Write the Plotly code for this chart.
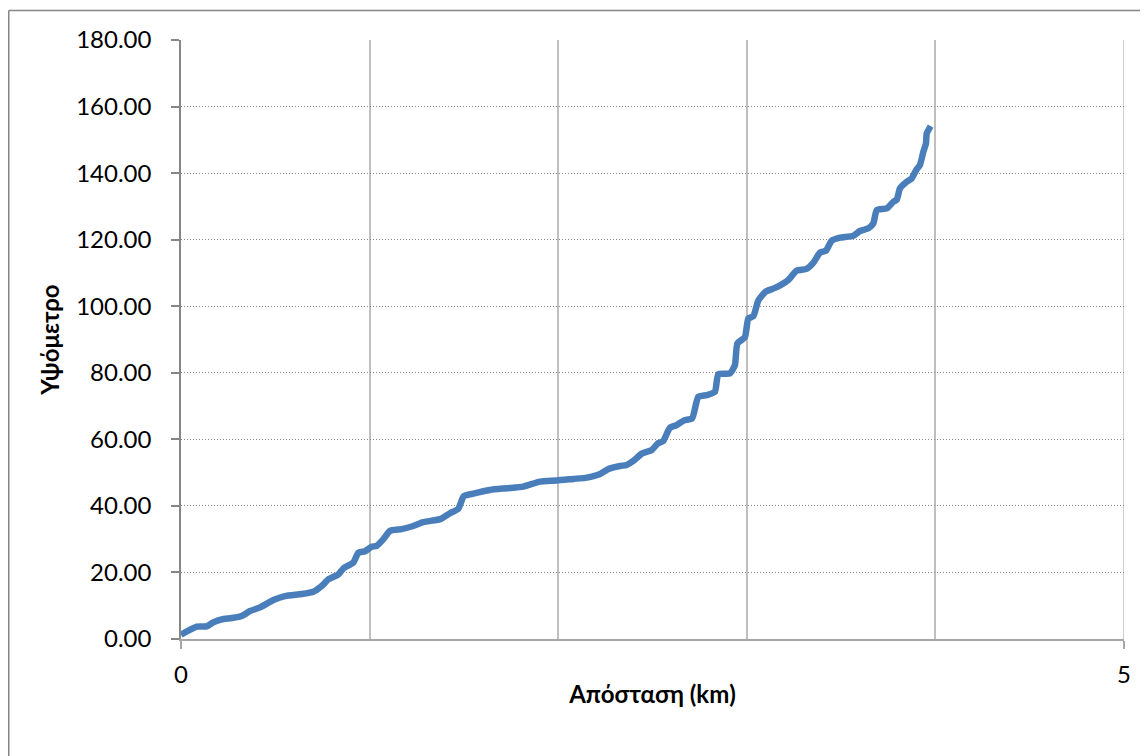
import plotly.graph_objects as go

distance_km = [0.000, 0.039, 0.083, 0.136, 0.171, 0.216, 0.269, 0.322, 0.366, 0.419,
               0.490, 0.551, 0.640, 0.702, 0.746, 0.781, 0.834, 0.861, 0.914, 0.940,
               0.976, 1.011, 1.038, 1.073, 1.108, 1.170, 1.223, 1.285, 1.378, 1.426,
               1.470, 1.499, 1.550, 1.638, 1.727, 1.815, 1.903, 1.992, 2.080, 2.151,
               2.222, 2.266, 2.328, 2.363, 2.398, 2.443, 2.496, 2.527, 2.557, 2.591,
               2.628, 2.668, 2.710, 2.743, 2.788, 2.831, 2.849, 2.911, 2.937, 2.950,
               2.990, 3.008, 3.035, 3.061, 3.100, 3.150, 3.220, 3.264, 3.317, 3.353,
               3.388, 3.420, 3.450, 3.494, 3.565, 3.600, 3.645, 3.671, 3.689, 3.742,
               3.777, 3.795, 3.812, 3.848, 3.874, 3.901, 3.918, 3.936, 3.950, 3.954,
               3.975]
elevation_m = [1.3, 2.5, 3.7, 3.8, 5.0, 5.9, 6.3, 6.9, 8.4, 9.5,
               11.7, 12.9, 13.5, 14.2, 15.9, 17.9, 19.4, 21.2, 23.0, 25.9,
               26.4, 27.7, 28.0, 30.0, 32.5, 33.0, 33.8, 35.1, 36.1, 37.8,
               39.1, 42.9, 43.7, 44.8, 45.3, 45.8, 47.3, 47.6, 48.1, 48.5,
               49.6, 51.1, 52.0, 52.3, 53.5, 55.7, 56.8, 58.7, 59.5, 63.4,
               64.3, 65.7, 66.3, 72.8, 73.3, 74.3, 79.6, 79.8, 82.3, 88.8,
               90.7, 96.3, 97.0, 101.7, 104.4, 105.5, 107.9, 110.7, 111.2, 113.1,
               116.1, 116.7, 119.7, 120.6, 121.2, 122.6, 123.4, 124.9, 128.9, 129.4,
               131.4, 132.0, 135.4, 137.4, 138.4, 141.2, 142.4, 146.4, 148.9, 151.9,
               154.1]

x_ticks = [0, 5]
y_ticks = [0, 20, 40, 60, 80, 100, 120, 140, 160, 180]

font_family = "Lato, 'Noto Sans', 'Open Sans', sans-serif"

# page body has an 8px margin, so the figure is drawn at (8, 8)
W, H = 1140, 748
ML, MR, MT, MB = 173, 24, 32, 117
PW, PH = W - ML - MR, H - MT - MB


def px_to_paper_x(px):
    return (px - ML) / PW


def px_to_paper_y(py):
    return (PH + MT - py) / PH


fig = go.Figure()
fig.add_trace(go.Scatter(
    x=distance_km, y=elevation_m, mode="lines",
    line=dict(color="#4A7EBB", width=6.5, shape="spline", smoothing=0.5),
    showlegend=False, hoverinfo="x+y",
))

fig.update_layout(
    width=W, height=H,
    margin=dict(l=ML, r=MR, t=MT, b=MB),
    paper_bgcolor="white", plot_bgcolor="white",
    font=dict(family=font_family, size=24, color="black"),
    showlegend=False,
    xaxis=dict(
        range=[0, 5], tickvals=x_ticks, ticktext=[str(v) for v in x_ticks],
        showgrid=True, gridcolor="#BFBFBF", gridwidth=1.5,
        minor=dict(dtick=1, showgrid=True, gridcolor="#BFBFBF", gridwidth=1.5, ticks=""),
        showline=True, linecolor="#A6A6A6", linewidth=1.5,
        ticks="outside", ticklen=8, tickcolor="#A6A6A6", tickwidth=1.5,
        ticklabelstandoff=5,
        zeroline=False,
        title=dict(text="<b>Απόσταση (km)</b>", font=dict(size=24), standoff=0),
    ),
    yaxis=dict(
        range=[0, 180], tickvals=y_ticks, tickformat=".2f",
        showgrid=True, gridcolor="#868686", gridwidth=1, griddash="1px,2px",
        showline=True, linecolor="#868686", linewidth=1.5,
        ticks="outside", ticklen=8, tickcolor="#868686", tickwidth=1.5,
        ticklabelstandoff=15,
        zeroline=False,
        title=dict(text="<b>Υψόμετρο</b>", font=dict(size=24), standoff=10),
    ),
)

# vertical gridline at the right edge of the plot (x = 5)
fig.add_shape(type="line", xref="x", yref="paper", x0=5, x1=5, y0=0, y1=1,
              line=dict(color="#BFBFBF", width=1.5), layer="below")

# outer chart-area border: only its top and left edges fall inside the picture
border = dict(color="#868686", width=1.5)
fig.add_shape(type="line", xref="paper", yref="paper",
              x0=px_to_paper_x(0.75), x1=px_to_paper_x(W + 20),
              y0=px_to_paper_y(2.5), y1=px_to_paper_y(2.5), line=border, layer="below")
fig.add_shape(type="line", xref="paper", yref="paper",
              x0=px_to_paper_x(0.75), x1=px_to_paper_x(0.75),
              y0=px_to_paper_y(2.5), y1=px_to_paper_y(H + 20), line=border, layer="below")

fig.write_html("out.html")
